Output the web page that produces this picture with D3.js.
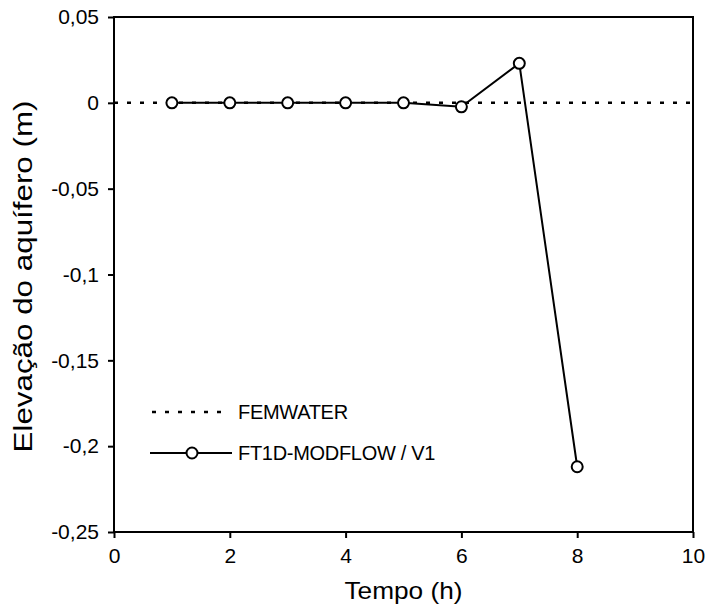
<!DOCTYPE html>
<html>
<head>
<meta charset="utf-8">
<script src="https://cdn.jsdelivr.net/npm/d3@7"></script>
<style>
  html, body { margin: 0; padding: 0; background: #fff; }
  svg { display: block; }
  text { font-family: "Liberation Sans", Arial, Helvetica, sans-serif; fill: #000; }
</style>
</head>
<body>
<svg id="chart" width="708" height="615"></svg>
<script>
// Elevação do aquífero ao longo do tempo
const tempo = [1, 2, 3, 4, 5, 6, 7, 8];
const ft1dModflow = [0, 0, 0, 0, 0, -0.0023, 0.023, -0.212];
const femwaterTempo = [0, 10];
const femwaterValues = [0, 0];
const xTicks = [0, 2, 4, 6, 8, 10];
const yTicks = [0.05, 0, -0.05, -0.1, -0.15, -0.2, -0.25];
const seriesNames = ["FEMWATER", "FT1D-MODFLOW / V1"];

const svg = d3.select("#chart");
const x = d3.scaleLinear().domain([0, 10]).range([114, 693]);
const y = d3.scaleLinear().domain([-0.25, 0.05]).range([532, 17]);

const fmt = v => (v === 0 ? "0" : String(v).replace(".", ","));

// plot frame
svg.append("rect")
  .attr("x", x(0)).attr("y", y(0.05))
  .attr("width", x(10) - x(0)).attr("height", y(-0.25) - y(0.05))
  .attr("fill", "none").attr("stroke", "#000").attr("stroke-width", 2);

// axes
const yAxis = d3.axisLeft(y).tickValues(yTicks).tickFormat(fmt).tickSize(6).tickPadding(9);
const gy = svg.append("g").attr("transform", `translate(${x(0)},0)`).call(yAxis);
const xAxis = d3.axisBottom(x).tickValues(xTicks).tickFormat(d3.format("d")).tickSize(6).tickPadding(10);
const gx = svg.append("g").attr("transform", `translate(0,${y(-0.25)})`).call(xAxis);
[gx, gy].forEach(g => {
  g.select(".domain").remove();
  g.selectAll(".tick line").attr("stroke", "#000").attr("stroke-width", 2);
  g.selectAll(".tick text").style("font-size", "21px").attr("fill", "#000");
});

// axis titles
svg.append("text")
  .attr("x", (x(0) + x(10)) / 2).attr("y", 599)
  .attr("text-anchor", "middle").style("font-size", "24px")
  .attr("textLength", 118).attr("lengthAdjust", "spacingAndGlyphs")
  .text("Tempo (h)");
svg.append("text")
  .attr("transform", `translate(32,${(y(0.05) + y(-0.25)) / 2 + 2}) rotate(-90)`)
  .attr("text-anchor", "middle").style("font-size", "25px")
  .attr("textLength", 352).attr("lengthAdjust", "spacingAndGlyphs")
  .text("Elevação do aquífero (m)");

// FEMWATER (dotted)
const femLine = d3.line().x((d, i) => x(femwaterTempo[i])).y(d => y(d));
svg.append("path")
  .attr("d", femLine(femwaterValues))
  .attr("fill", "none").attr("stroke", "#000")
  .attr("stroke-width", 2.5).attr("stroke-dasharray", "4,9");

// FT1D-MODFLOW / V1 (solid with open circles)
const ftLine = d3.line().x((d, i) => x(tempo[i])).y(d => y(d));
svg.append("path")
  .attr("d", ftLine(ft1dModflow))
  .attr("fill", "none").attr("stroke", "#000").attr("stroke-width", 2);
svg.append("g").selectAll("circle")
  .data(ft1dModflow).join("circle")
  .attr("cx", (d, i) => x(tempo[i])).attr("cy", d => y(d))
  .attr("r", 5.5).attr("fill", "#fff").attr("stroke", "#000").attr("stroke-width", 2);

// legend
const legend = svg.append("g");
legend.append("line")
  .attr("x1", 152).attr("x2", 228).attr("y1", 412).attr("y2", 412)
  .attr("stroke", "#000").attr("stroke-width", 2.5).attr("stroke-dasharray", "4,9");
legend.append("text").attr("x", 238).attr("y", 419)
  .style("font-size", "20px").style("letter-spacing", "-0.3px").text(seriesNames[0]);
legend.append("line")
  .attr("x1", 150).attr("x2", 232).attr("y1", 453).attr("y2", 453)
  .attr("stroke", "#000").attr("stroke-width", 2);
legend.append("circle")
  .attr("cx", 192).attr("cy", 453).attr("r", 5.5)
  .attr("fill", "#fff").attr("stroke", "#000").attr("stroke-width", 2);
legend.append("text").attr("x", 238).attr("y", 460)
  .style("font-size", "20px").style("letter-spacing", "-0.3px").text(seriesNames[1]);
</script>
</body>
</html>
